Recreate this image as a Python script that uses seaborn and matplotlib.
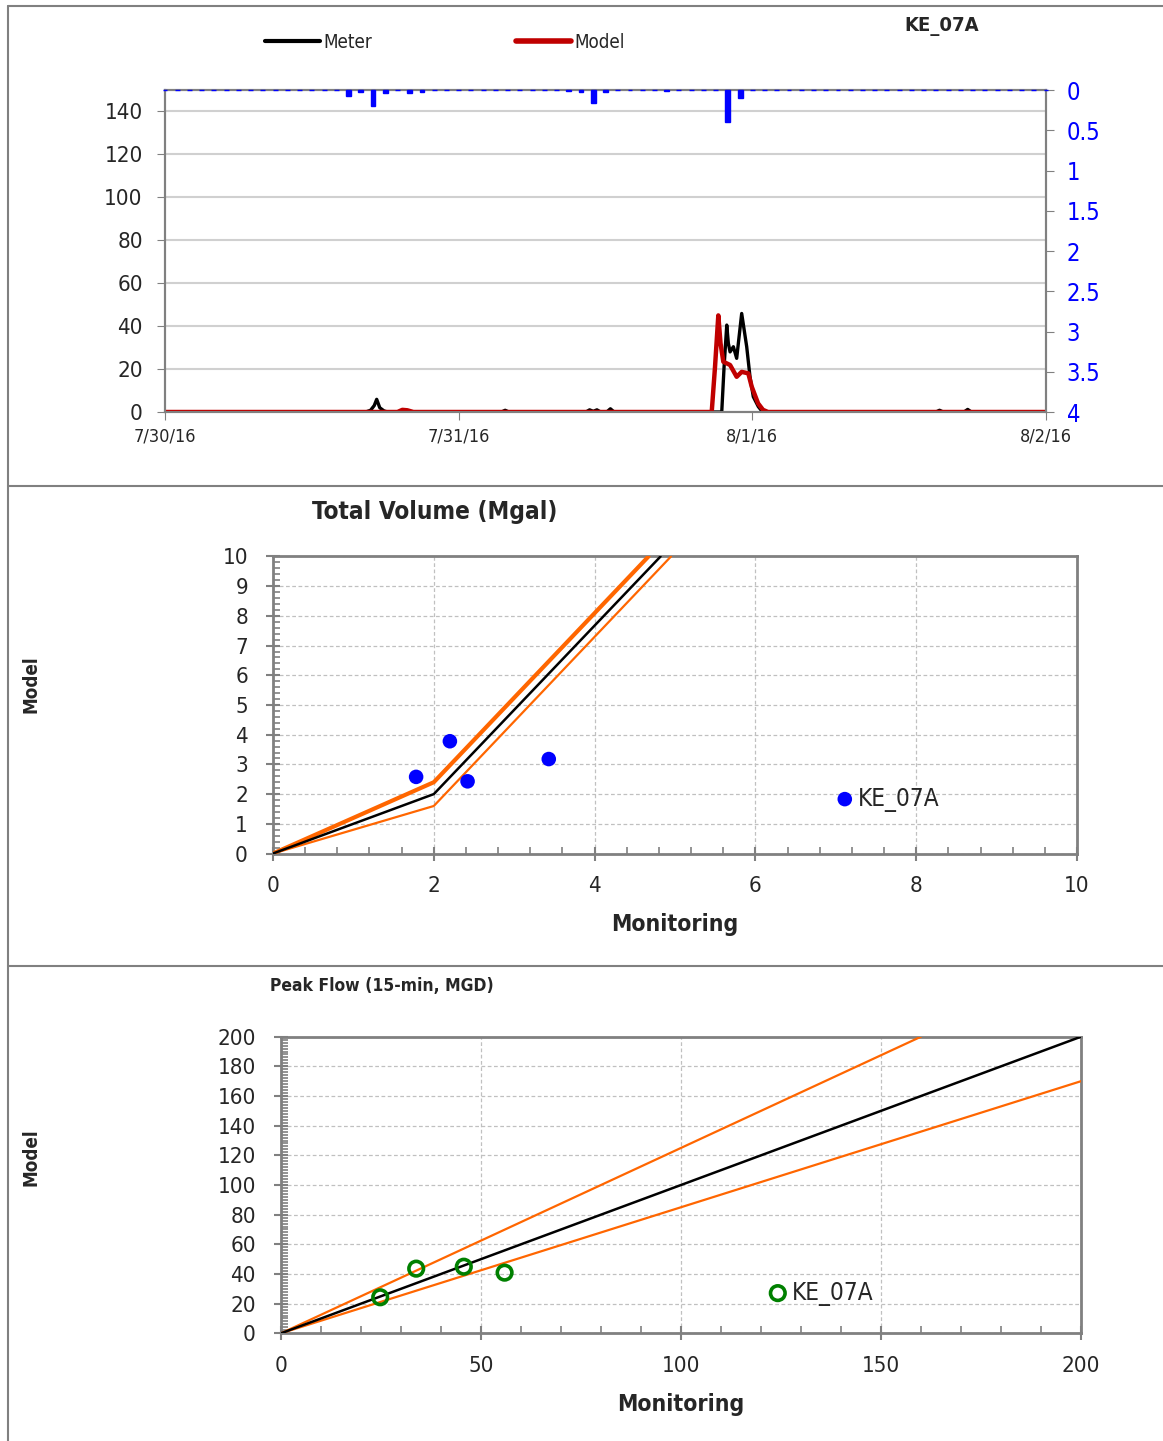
import numpy as np
import pandas as pd
import matplotlib
matplotlib.use("Agg")
import matplotlib.pyplot as plt
from matplotlib.lines import Line2D
from matplotlib.ticker import MultipleLocator, FuncFormatter
import seaborn as sns

# ---------------- data ----------------
date_labels = ["7/30/16", "7/31/16", "8/1/16", "8/2/16"]
date_hours = [0, 24, 48, 72]

meter_hours = [0, 16.4, 16.8, 17.1, 17.3, 17.55, 17.9, 18.2, 27.5, 27.8, 28.1,
               34.4, 34.7, 35.0, 35.3, 35.6, 36.1, 36.4, 36.7,
               45.5, 45.69, 45.91, 46.04, 46.18, 46.45, 46.72, 47.13, 47.54,
               47.81, 48.08, 48.49, 48.77, 49.04, 63.0, 63.3, 63.6, 65.3, 65.6,
               65.9, 72]
meter_flow = [0, 0, 0.8, 3, 5.9, 2, 0.5, 0, 0, 0.8, 0,
              0, 1, 0.3, 1, 0, 0, 1.5, 0,
              0, 21, 40.5, 32, 28, 30.4, 25, 45.9, 30.4,
              16.4, 7.1, 2.5, 0.5, 0, 0, 0.8, 0, 0, 1.2,
              0, 0]

model_hours = [0, 19.0, 19.4, 19.8, 20.3, 44.68, 44.95, 45.22, 45.4, 45.63,
               46.18, 46.72, 47.13, 47.67, 47.95, 48.47, 48.87, 49.28, 72]
model_flow = [0, 0, 1, 0.8, 0, 0, 21, 45, 32, 23.4,
              21.9, 16.4, 18.7, 18, 11.8, 4, 1, 0, 0]

rain_hourly = [0, 0, 0, 0, 0, 0, 0, 0, 0, 0, 0, 0,
               0, 0, 0, 0.07, 0.03, 0.2, 0.04, 0, 0.04, 0.02, 0, 0,
               0, 0, 0, 0, 0, 0, 0, 0, 0, 0.01, 0.03, 0.165,
               0.03, 0, 0, 0, 0, 0.01, 0, 0, 0, 0, 0.4, 0.1,
               0, 0, 0, 0, 0, 0, 0, 0, 0, 0, 0, 0,
               0, 0, 0, 0, 0, 0, 0, 0, 0, 0, 0, 0,
               0]

vol_monitor = [1.78, 2.20, 2.42, 3.43]
vol_model = [2.58, 3.78, 2.43, 3.18]
vol_ref_x = [0, 2, 4.82]
vol_ref_y = [0, 2, 10]
vol_up_x = [0, 2, 4.67]
vol_up_y = [0, 2.4, 10]
vol_lo_x = [0, 2, 4.95]
vol_lo_y = [0, 1.6, 10]

pk_monitor = [24.8, 33.8, 45.7, 55.9]
pk_model = [24.3, 43.6, 44.9, 40.9]
pk_ref_x = [0, 200]
pk_ref_y = [0, 200]
pk_up_x = [0, 160]
pk_up_y = [0, 200]
pk_lo_x = [0, 200]
pk_lo_y = [0, 170]

site = "KE_07A"

# ---------------- style ----------------
sns.set_style("white")
plt.rcParams["font.family"] = ["DejaVu Sans"]
plt.rcParams["font.stretch"] = "condensed"
GRAY = "#808080"
ORANGE = "#FF6600"
TICK_FS = 16

W, H = 1163, 1441
fig = plt.figure(figsize=(W / 100, H / 100), dpi=100)


def fx(px):
    return px / W


def fy(py):
    return 1 - py / H


# borders
for (x0, y0, x1, y1) in [(8, 6, 8, 1441), (8, 6, 1163, 6), (8, 486, 1163, 486),
                         (8, 966, 1163, 966)]:
    fig.add_artist(Line2D([fx(x0), fx(x1)], [fy(y0), fy(y1)], color=GRAY, lw=1.5))

# ---------------- top hydrograph ----------------
ax = fig.add_axes([fx(165), fy(412), fx(1046) - fx(165), fy(90) - fy(412)])
df_m = pd.DataFrame({"h": meter_hours, "q": meter_flow})
df_s = pd.DataFrame({"h": model_hours, "q": model_flow})
sns.lineplot(data=df_m, x="h", y="q", ax=ax, color="black", lw=2.4, sort=False, zorder=3)
sns.lineplot(data=df_s, x="h", y="q", ax=ax, color="#C00000", lw=3.2, sort=False, zorder=4)
ax.set_xlim(0, 72)
ax.set_ylim(0, 150)
ax.set_yticks(np.arange(0, 141, 20))
ax.set_xticks(date_hours)
ax.set_xticklabels(date_labels)
ax.set_xlabel("")
ax.set_ylabel("")
ax.yaxis.grid(True, color="#d0d0d0", lw=1.5)
ax.set_axisbelow(True)
ax.tick_params(axis="y", labelsize=TICK_FS, length=6, color=GRAY, pad=10, direction="out", left=True)
ax.tick_params(axis="x", labelsize=13, length=6, color=GRAY, pad=5, direction="out", bottom=True)
for s in ax.spines.values():
    s.set_color(GRAY)
    s.set_linewidth(1.5)

ax2 = ax.twinx()
ax2.bar(np.arange(len(rain_hourly)), rain_hourly, width=0.4, color="#0000FF",
        edgecolor="#0000FF", lw=1.0, clip_on=False, zorder=5)
ax2.set_ylim(4, 0)
ax2.set_xlim(0, 72)
ax2.set_yticks(np.arange(0, 4.01, 0.5))
ax2.yaxis.set_major_formatter(FuncFormatter(lambda v, p: f"{v:g}"))
ax2.tick_params(axis="y", labelsize=17, labelcolor="#0000FF", length=6, color=GRAY,
                pad=9, direction="out", right=True)
for s in ax2.spines.values():
    s.set_color(GRAY)
    s.set_linewidth(1.5)
ax2.grid(False)

handles = [Line2D([], [], color="black", lw=3), Line2D([], [], color="#C00000", lw=4)]
fig.legend(handles, ["Meter", "Model"], loc="center left", bbox_to_anchor=(fx(265), fy(42)),
           ncol=2, frameon=False, fontsize=13.5, handlelength=2.93, handletextpad=0.16,
           columnspacing=7.7, borderpad=0, borderaxespad=0)
fig.text(fx(942), fy(27), site, ha="center", va="center", fontsize=14.5, fontweight="bold")

# ---------------- total volume ----------------
def style_scatter_axes(a):
    for s in a.spines.values():
        s.set_color(GRAY)
        s.set_linewidth(2)
    a.grid(True, which="major", color="#c0c0c0", ls=(0, (3, 2)), lw=0.9)
    a.set_axisbelow(True)
    a.tick_params(which="major", direction="inout", length=10, width=1.5, color=GRAY,
                  labelsize=TICK_FS)
    a.tick_params(which="minor", direction="in", length=5, width=1.2, color=GRAY)
    a.tick_params(axis="x", which="major", pad=11)
    a.tick_params(axis="y", which="major", pad=13)
    a.tick_params(left=True, bottom=True, which="both")
    a.set_xlabel("")
    a.set_ylabel("")


ax3 = fig.add_axes([fx(273), fy(853.5), fx(1077) - fx(273), fy(556.5) - fy(853.5)])
sns.lineplot(x=vol_up_x, y=vol_up_y, ax=ax3, color=ORANGE, lw=3.0, sort=False, zorder=3)
sns.lineplot(x=vol_lo_x, y=vol_lo_y, ax=ax3, color=ORANGE, lw=1.6, sort=False, zorder=3)
sns.lineplot(x=vol_ref_x, y=vol_ref_y, ax=ax3, color="black", lw=1.8, sort=False, zorder=4)
sns.scatterplot(x=vol_monitor, y=vol_model, ax=ax3, color="#0000FF", s=110,
                edgecolor="none", zorder=5, label=site)
ax3.set_xlim(0, 10)
ax3.set_ylim(0, 10)
ax3.xaxis.set_major_locator(MultipleLocator(2))
ax3.xaxis.set_minor_locator(MultipleLocator(0.4))
ax3.yaxis.set_major_locator(MultipleLocator(1))
ax3.yaxis.set_minor_locator(MultipleLocator(0.2))
style_scatter_axes(ax3)
ax3.legend(loc="center left", bbox_to_anchor=(fx(837.5), fy(799)),
           bbox_transform=fig.transFigure, frameon=False, fontsize=17.5,
           handlelength=0.6, handletextpad=0.25, borderpad=0, borderaxespad=0)

fig.text(fx(435), fy(512), "Total Volume (Mgal)", ha="center", va="center",
         fontsize=17.5, fontweight="bold")
fig.text(fx(675), fy(925), "Monitoring", ha="center", va="center",
         fontsize=16.5, fontweight="bold")
fig.text(fx(31), fy(684), "Model", ha="center", va="center", rotation=90,
         fontsize=13.5, fontweight="bold")

# ---------------- peak flow ----------------
ax4 = fig.add_axes([fx(281), fy(1333.3), fx(1081) - fx(281), fy(1036.7) - fy(1333.3)])
sns.lineplot(x=pk_up_x, y=pk_up_y, ax=ax4, color=ORANGE, lw=1.6, sort=False, zorder=3)
sns.lineplot(x=pk_lo_x, y=pk_lo_y, ax=ax4, color=ORANGE, lw=1.6, sort=False, zorder=3)
sns.lineplot(x=pk_ref_x, y=pk_ref_y, ax=ax4, color="black", lw=1.8, sort=False, zorder=4)
sns.scatterplot(x=pk_monitor, y=pk_model, ax=ax4, s=110, facecolor="none",
                edgecolor="#008000", linewidth=2.6, zorder=5, label=site)
ax4.set_xlim(0, 200)
ax4.set_ylim(0, 200)
ax4.xaxis.set_major_locator(MultipleLocator(50))
ax4.xaxis.set_minor_locator(MultipleLocator(10))
ax4.yaxis.set_major_locator(MultipleLocator(20))
ax4.yaxis.set_minor_locator(MultipleLocator(2))
style_scatter_axes(ax4)
ax4.legend(loc="center left", bbox_to_anchor=(fx(770.5), fy(1293)),
           bbox_transform=fig.transFigure, frameon=False, fontsize=17.5,
           handlelength=0.6, handletextpad=0.28, borderpad=0, borderaxespad=0)

fig.text(fx(382), fy(986), "Peak Flow (15-min, MGD)", ha="center", va="center",
         fontsize=12.5, fontweight="bold")
fig.text(fx(681), fy(1405), "Monitoring", ha="center", va="center",
         fontsize=16.5, fontweight="bold")
fig.text(fx(31), fy(1157), "Model", ha="center", va="center", rotation=90,
         fontsize=13.5, fontweight="bold")

fig.savefig("out.png", dpi=100, facecolor="white")
